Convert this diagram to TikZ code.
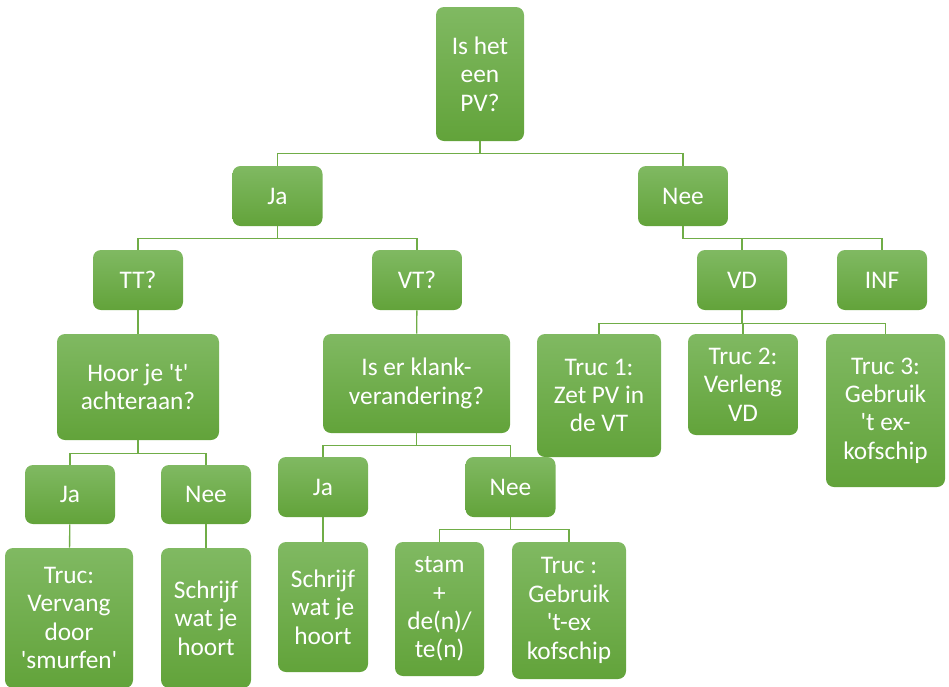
\documentclass[tikz,border=0pt]{standalone}
\usepackage{fontspec}
\setmainfont{Carlito}
\usepackage{tikz}
\usetikzlibrary{positioning}

\definecolor{boxtop}{HTML}{80B962}
\definecolor{boxbot}{HTML}{62A33A}
\definecolor{linkgreen}{HTML}{70AD47}

\newcommand{\q}{\textquotesingle}

\begin{document}
\begin{tikzpicture}[
	x=0.75pt, y=-0.75pt,
	box/.style    = {rectangle, rounded corners=6pt, top color=boxtop, bottom color=boxbot,
	                 draw=none, text=white, align=center, inner sep=0pt,
	                 font=\fontsize{19}{21.3}\selectfont},
	size/.style 2 args = {box, minimum width=0.75*#1pt, minimum height=0.75*#2pt},
	small/.style  = {size={90}{60}},
	link/.style   = {draw=linkgreen, line width=1pt}]

	\useasboundingbox (0,0) rectangle (949,686);
	\clip (0,0) rectangle (949,686);

	% top of the tree
	\node[size={88}{134}] (pv) at (480,74) {Is het\\een\\PV?};
	\node[small] (ja) at (277.5,196) {Ja};
	\node[small] (nee) at (683,196) {Nee};

	% second level
	\node[small] (tt) at (138,280) {TT?};
	\node[small] (vt) at (417,280) {VT?};
	\node[small] (vd) at (742,280) {VD};
	\node[small] (inf) at (882,280) {INF};

	% questions and tricks
	\node[size={162}{106}] (hoor) at (138,387) {Hoor je \q t\q\\achteraan?};
	\node[size={187}{99}] (klank) at (416.5,383.5) {Is er klank-\\verandering?};
	\node[size={124}{123}] (truc1) at (599,395.5) {Truc 1:\\Zet PV in\\de VT};
	\node[size={110}{101}] (truc2) at (743,384.5) {Truc 2:\\Verleng\\VD};
	\node[size={119}{153}] (truc3) at (885.5,410.5) {Truc 3:\\Gebruik\\\q t ex-\\kofschip};

	% answers below TT?
	\node[size={90}{59}] (tja) at (70,494.5) {Ja};
	\node[size={90}{59}] (tnee) at (206,494.5) {Nee};
	\node[size={128}{140}] (smurf) at (69,618) {Truc:\\Vervang\\door\\\q smurfen\q};
	\node[size={90}{140}] (tschrijf) at (206,618) {Schrijf\\wat je\\hoort};

	% answers below VT?
	\node[small] (vja) at (323,487) {Ja};
	\node[small] (vnee) at (510.5,487) {Nee};
	\node[size={90}{130}] (vschrijf) at (323,607) {Schrijf\\wat je\\hoort};
	\node[size={89}{134}] (stam) at (439.5,609) {stam\\+\\de(n)/\\te(n)};
	\node[size={114}{137}] (truc4) at (569,610.5) {Truc :\\Gebruik\\\q t-ex\\kofschip};

	% forks from each parent to its children
	\foreach \c in {ja,nee}
	\draw[link] (pv.south) -- ++(0,12) -| (\c.north);

	\foreach \c in {tt,vt}
	\draw[link] (ja.south) -- ++(0,12) -| (\c.north);

	\foreach \c in {vd,inf}
	\draw[link] (nee.south) -- ++(0,12) -| (\c.north);

	\foreach \c in {truc1,truc2,truc3}
	\draw[link] (vd.south) -- ++(0,13) -| (\c.north);

	\foreach \c in {tja,tnee}
	\draw[link] (hoor.south) -- ++(0,13) -| (\c.north);

	\foreach \c in {vja,vnee}
	\draw[link] (klank.south) -- ++(0,12) -| (\c.north);

	\foreach \c in {stam,truc4}
	\draw[link] (vnee.south) -- ++(0,12) -| (\c.north);

	% straight links
	\draw[link] (tt) -- (hoor);
	\draw[link] (vt) -- (klank);
	\draw[link] (tja) -- (smurf);
	\draw[link] (tnee) -- (tschrijf);
	\draw[link] (vja) -- (vschrijf);

\end{tikzpicture}
\end{document}
